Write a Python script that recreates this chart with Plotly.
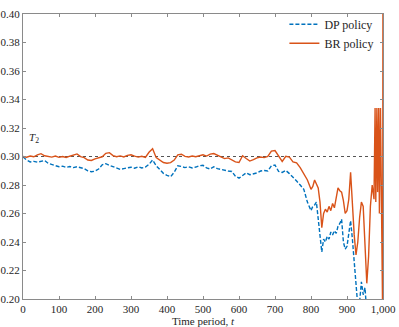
import plotly.graph_objects as go

# time periods for the sampled points
t_early = [0, 10, 20, 30, 40, 50, 60, 70, 80, 90, 100, 110, 120, 130, 140, 150, 160, 170, 180, 190,
           200, 210, 220, 230, 240, 250, 260, 270, 280, 290, 300, 310, 320, 330, 340, 350, 360, 370, 380, 390,
           400, 410, 420, 430, 440, 450, 460, 470, 480, 490, 500, 510, 520, 530, 540, 550, 560, 570, 580, 590,
           600, 610, 620, 630, 640, 650, 660, 670, 680, 690, 700, 710, 720, 730, 740, 750, 760, 770, 780, 790]
t_late = [800, 805, 810, 815, 820, 825, 830, 835, 840, 845, 850, 855, 860, 865, 870, 875, 880, 885, 890, 895,
          900, 905, 910, 915, 920, 925, 930, 935, 940, 945, 950, 955, 960, 965, 970, 975]
t_end_br = [978, 980, 983, 985, 988, 990, 993, 995, 997, 999, 1000]
t_end_dp = [980, 990, 1000]

br_early = [0.3000, 0.2995, 0.3003, 0.2998, 0.3012, 0.3020, 0.3005, 0.3001, 0.2996, 0.3003,
            0.2994, 0.3000, 0.2993, 0.3002, 0.3010, 0.3018, 0.2999, 0.2992, 0.2975, 0.2972,
            0.2983, 0.2990, 0.2998, 0.3022, 0.3027, 0.3006, 0.2998, 0.3004, 0.2997, 0.3008,
            0.3012, 0.3003, 0.2996, 0.3002, 0.2994, 0.3030, 0.3055, 0.2992, 0.2978, 0.2958,
            0.2953, 0.2957, 0.2975, 0.3012, 0.3016, 0.3001, 0.2997, 0.3003, 0.2998, 0.3006,
            0.3012, 0.3003, 0.3017, 0.3021, 0.3010, 0.2994, 0.2985, 0.2990, 0.2978, 0.2962,
            0.2958, 0.3005, 0.2986, 0.2968, 0.2978, 0.2990, 0.2996, 0.2992, 0.3000, 0.3038,
            0.3042, 0.3003, 0.2965, 0.3001, 0.2996, 0.2962, 0.2955, 0.2922, 0.2880, 0.2835]
br_late = [0.2770, 0.2790, 0.2835, 0.2810, 0.2780, 0.2680, 0.2500, 0.2600, 0.2630, 0.2610,
           0.2650, 0.2620, 0.2670, 0.2640, 0.2700, 0.2780, 0.2760, 0.2750, 0.2690, 0.2600,
           0.2620, 0.2700, 0.2890, 0.2620, 0.2450, 0.2310, 0.2400, 0.2570, 0.2680, 0.2650,
           0.2400, 0.2110, 0.2300, 0.2650, 0.2800, 0.2700]
br_end = [0.3340, 0.2680, 0.3340, 0.2750, 0.3340, 0.2600, 0.3340, 0.2700, 0.1900, 0.1900, 0.4500]

dp_early = [0.2997, 0.2975, 0.2962, 0.2966, 0.2960, 0.2968, 0.2972, 0.2952, 0.2945, 0.2938,
            0.2928, 0.2932, 0.2924, 0.2930, 0.2922, 0.2928, 0.2920, 0.2915, 0.2900, 0.2893,
            0.2897, 0.2912, 0.2942, 0.2950, 0.2938, 0.2930, 0.2918, 0.2910, 0.2915, 0.2922,
            0.2925, 0.2918, 0.2928, 0.2920, 0.2926, 0.2945, 0.2975, 0.2935, 0.2905, 0.2882,
            0.2868, 0.2858, 0.2890, 0.2935, 0.2930, 0.2922, 0.2928, 0.2920, 0.2926, 0.2935,
            0.2938, 0.2920, 0.2912, 0.2928, 0.2915, 0.2908, 0.2902, 0.2898, 0.2895, 0.2862,
            0.2848, 0.2870, 0.2885, 0.2872, 0.2878, 0.2885, 0.2898, 0.2902, 0.2898, 0.2935,
            0.2940, 0.2895, 0.2888, 0.2902, 0.2880, 0.2850, 0.2828, 0.2800, 0.2770, 0.2680]
dp_late = [0.2620, 0.2650, 0.2660, 0.2680, 0.2560, 0.2480, 0.2330, 0.2420, 0.2400, 0.2440,
           0.2420, 0.2470, 0.2450, 0.2480, 0.2460, 0.2510, 0.2530, 0.2560, 0.2400, 0.2350,
           0.2370, 0.2460, 0.2550, 0.2420, 0.2250, 0.2080, 0.1950, 0.1980, 0.2120, 0.2030,
           0.2080, 0.1900, 0.1850, 0.1820, 0.1800, 0.1780]
dp_end = [0.1750, 0.1700, 0.1600]

t_br = t_early + t_late + t_end_br
br = br_early + br_late + br_end
t_dp = t_early + t_late + t_end_dp
dp = dp_early + dp_late + dp_end

T2_level = 0.30

x_ticks = [0, 100, 200, 300, 400, 500, 600, 700, 800, 900, 1000]
x_ticktext = ['0', '100', '200', '300', '400', '500', '600', '700', '800', '900', '1,000']
y_ticks = [0.20, 0.22, 0.24, 0.26, 0.28, 0.30, 0.32, 0.34, 0.36, 0.38, 0.40]

font = 'Liberation Serif'
blue = '#0072BD'
orange = '#D95319'

fig = go.Figure()

fig.add_trace(go.Scatter(x=[0, 1000], y=[T2_level, T2_level], mode='lines',
                         line=dict(color='#555555', width=1, dash='dot'),
                         showlegend=False, hoverinfo='skip'))

fig.add_trace(go.Scatter(x=t_dp, y=dp, mode='lines', name='DP policy',
                         line=dict(color=blue, width=1.4, dash='4px,2px')))

fig.add_trace(go.Scatter(x=t_br, y=br, mode='lines', name='BR policy',
                         line=dict(color=orange, width=1.4)))

fig.add_annotation(x=12, y=0.3065, text='<i>T</i><sub>2</sub>', showarrow=False,
                   xanchor='left', yanchor='bottom',
                   font=dict(family=font, size=11, color='#262626'))

axis_style = dict(showline=True, linecolor='#8a8a8a', linewidth=1, mirror='ticks',
                  ticks='inside', ticklen=3, tickcolor='#8a8a8a', showgrid=False, zeroline=False,
                  automargin=False,
                  tickfont=dict(family=font, size=11, color='#262626'))

fig.update_layout(
    width=399, height=327,
    margin=dict(l=23, r=16, t=10, b=28),
    paper_bgcolor='white', plot_bgcolor='white',
    font=dict(family=font, size=11, color='#262626'),
    xaxis=dict(range=[0, 1000], tickvals=x_ticks, ticktext=x_ticktext,
               title=dict(text='Time period, <i>t</i>', standoff=0,
                          font=dict(family=font, size=11, color='#262626')),
               **axis_style),
    yaxis=dict(range=[0.20, 0.40], tickvals=y_ticks, tickformat='.2f', **axis_style),
    legend=dict(x=0.99, y=1.015, xanchor='right', yanchor='top',
                bgcolor='rgba(0,0,0,0)', borderwidth=0,
                font=dict(family=font, size=12, color='#262626'),
                tracegroupgap=0, itemwidth=30),
    showlegend=True,
)

fig.write_html("out.html", config={'displayModeBar': False},
               post_script="document.body.style.margin='0px';")
